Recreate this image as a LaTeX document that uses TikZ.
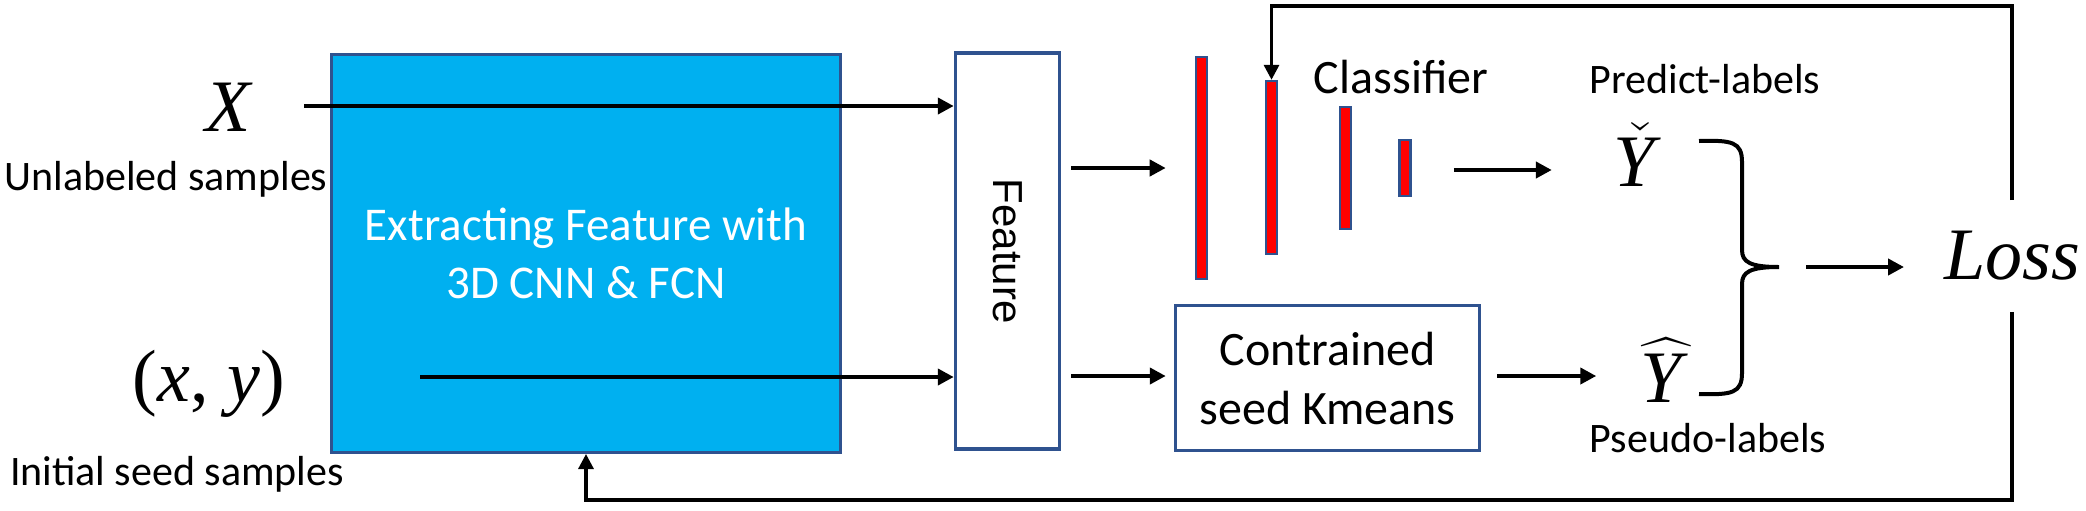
\RequirePackage{fix-cm}
\documentclass[tikz,border=0pt]{standalone}
\usepackage{amsmath}
\usepackage{fontspec}
\setmainfont{Carlito}
\newfontfamily\arialfont{Liberation Sans}
\newfontfamily\mathserif{Liberation Serif}
\usetikzlibrary{arrows.meta,calc}
\definecolor{boxblue}{HTML}{00B0F0}
\definecolor{edgeblue}{HTML}{2F528F}
\newcommand{\mvar}[1]{\text{\mathserif\itshape #1}}
\begin{document}
\begin{tikzpicture}[x=0.5pt,y=-0.5pt,
  conn/.style={line width=2pt,-{Triangle[length=8pt,width=8pt]}},
  fback/.style={line width=1.6pt,-{Triangle[length=7.5pt,width=7.5pt]}},
  bar/.style={draw=edgeblue,fill=red,line width=1.2pt,minimum width=5.6pt,inner sep=0pt},
  lbl/.style={inner sep=0pt,font=\fontsize{21}{25}\selectfont},
  big/.style={font=\fontsize{24}{29.5}\selectfont},
  mth/.style={inner sep=0pt,font=\mathserif\fontsize{37}{42}\selectfont},
]
\useasboundingbox (0,0) rectangle (2086,510);

% main boxes
\node[draw=edgeblue,fill=boxblue,line width=1.5pt,minimum width=254.5pt,minimum height=199pt,
      text=white,align=center,font=\fontsize{23.5}{29}\selectfont] (ext) at (586,253.5)
      {Extracting Feature with\\3D CNN \& FCN};
\node[draw=edgeblue,fill=white,line width=1.75pt,minimum width=52pt,minimum height=198pt] (feat) at (1007.5,251) {};
\node[rotate=-90,inner sep=0pt,font=\arialfont\fontsize{21}{25}\selectfont] (featlbl) at (feat.center) {Feature};
\node[draw=edgeblue,line width=1.75pt,minimum width=152pt,minimum height=72.5pt,align=center,big] (km) at (1327.5,378)
      {Contrained\\seed Kmeans};

% classifier bars
\node[bar,minimum height=111pt] (bar1) at (1201.5,168) {};
\node[bar,minimum height=86.5pt] (bar2) at (1271.5,167.5) {};
\node[bar,minimum height=61pt] (bar3) at (1345.5,168) {};
\node[bar,minimum height=28pt] (bar4) at (1405,168) {};

% labels
\node[big,inner sep=0pt,anchor=base] (cls) at (1401,93) {Classifier};
\node[lbl,anchor=base] (pred) at (1705,93) {Predict-labels};
\node[lbl,anchor=base] (pseudo) at (1708,452) {Pseudo-labels};
\node[lbl,anchor=base] (unl) at (166,190) {Unlabeled samples};
\node[lbl,anchor=base] (init) at (177,485) {Initial seed samples};

% math
\node[mth] (X) at (228,107) {\itshape X};
\node[mth] (xy) at (209,384) {(\textit{x}, \textit{y})};
\node[mth] (ycheck) at (1634,155) {$\check{\mvar{Y}\kern6pt}\kern-6pt$};
\node[mth] (yhat) at (1661,370) {$\widehat{\mvar{Y}\kern5pt}\kern-5pt$};
\node[mth,inner ysep=15.5pt] (loss) at (2012,256) {\itshape Loss};

% helper coordinates
\coordinate (topy) at (0,6);
\coordinate (boty) at (0,500);
\coordinate (xin) at (304,106);
\coordinate (xyin) at (420,377);
\coordinate (btip) at (1779,267);

% brace
\draw[line width=2pt] (1699,141) .. controls (1732,140) and (1742,142) .. (1742,162) -- (1742,250)
  .. controls (1742,262) and (1750,267) .. (btip)
  .. controls (1750,267) and (1742,272) .. (1742,284) -- (1742,373)
  .. controls (1742,393) and (1732,395) .. (1699,394);

% connectors
\draw[conn] (xin) -- (xin -| feat.west);
\draw[conn] (xyin) -- (xyin -| feat.west);
\draw[conn] ($(feat.east |- bar1.center)+(10,0)$) -- ($(bar1.west)+(-29,0)$);
\draw[conn] ($(feat.east |- km.west)+(10,-2)$) -- ($(km.west)+(-8,-2)$);
\draw[conn] ($(bar4.east)+(42,2)$) -- ($(bar4.east)+(140,2)$);
\draw[conn] ($(km.east)+(16,-2)$) -- ($(km.east)+(115,-2)$);
\draw[conn] ($(btip)+(27,0)$) -- ($(btip)+(125,0)$);

% feedback loops
\draw[fback] (loss.north) -- (loss.north |- topy) -- (bar2.north |- topy) -- (bar2.north);
\draw[fback] (loss.south) -- (loss.south |- boty) -- (ext.south |- boty) -- (ext.south);
\end{tikzpicture}
\end{document}
